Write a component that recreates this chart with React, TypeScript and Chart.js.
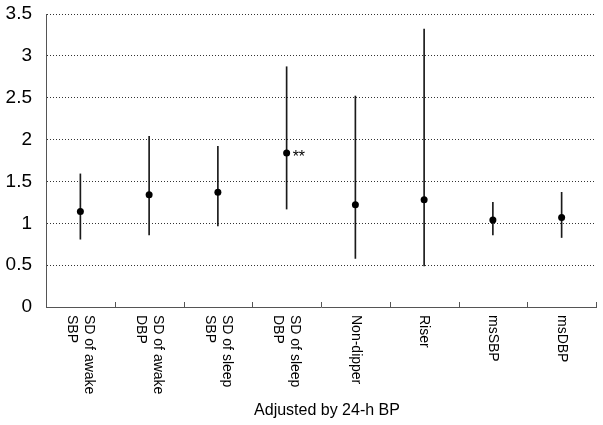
import React, { useEffect, useRef } from "react";
import { Chart, registerables } from "chart.js";

Chart.register(...registerables);

const categories: string[][] = [
  ["SD of awake", "SBP"],
  ["SD of awake", "DBP"],
  ["SD of sleep", "SBP"],
  ["SD of sleep", "DBP"],
  ["Non-dipper"],
  ["Riser"],
  ["msSBP"],
  ["msDBP"],
];
const oddsRatios = [1.14, 1.34, 1.37, 1.84, 1.22, 1.28, 1.04, 1.07];
const lowerCI = [0.81, 0.86, 0.97, 1.17, 0.58, 0.49, 0.86, 0.83];
const upperCI = [1.59, 2.04, 1.92, 2.87, 2.52, 3.32, 1.25, 1.37];
const significance = ["", "", "", "**", "", "", "", ""];
const yMin = 0;
const yMax = 3.5;
const yStep = 0.5;
const xAxisTitle = "Adjusted by 24-h BP";

const FONT = "'Liberation Sans', Arial, sans-serif";

const decorPlugin = {
  id: "decor",
  afterDraw(chart: any) {
    const ctx = chart.ctx;
    const xs = chart.scales.x;
    const ys = chart.scales.y;
    const n = categories.length;
    ctx.save();
    // inward tick marks at category boundaries
    ctx.strokeStyle = "#555";
    ctx.lineWidth = 1;
    for (let i = 0; i <= n; i++) {
      const px = Math.round(xs.getPixelForValue(i - 0.5)) + 0.5;
      ctx.beginPath();
      ctx.moveTo(px, ys.bottom);
      ctx.lineTo(px, ys.bottom - 5);
      ctx.stroke();
    }
    // rotated category labels (reading top to bottom)
    ctx.fillStyle = "#000";
    ctx.font = `14px ${FONT}`;
    ctx.textAlign = "left";
    ctx.textBaseline = "middle";
    const lineH = 17;
    categories.forEach((lines, i) => {
      const cx = xs.getPixelForValue(i);
      ctx.save();
      ctx.translate(cx, ys.bottom + 8);
      ctx.rotate(Math.PI / 2);
      lines.forEach((t, j) => {
        const off = (j - (lines.length - 1) / 2) * lineH;
        ctx.fillText(t, 0, off);
      });
      ctx.restore();
    });
    // significance marks
    ctx.font = `16px ${FONT}`;
    ctx.textBaseline = "alphabetic";
    significance.forEach((s, i) => {
      if (!s) return;
      const px = xs.getPixelForValue(i) + 6;
      const py = ys.getPixelForValue(oddsRatios[i]) + 9;
      ctx.fillText(s, px, py);
    });
    // axis title
    ctx.font = `16px ${FONT}`;
    ctx.textAlign = "center";
    ctx.textBaseline = "alphabetic";
    ctx.fillText(xAxisTitle, (xs.left + xs.right) / 2 + 6, 415);
    ctx.restore();
  },
};

export default function App() {
  const ref = useRef<HTMLCanvasElement>(null);
  useEffect(() => {
    if (!ref.current) return;
    const chart = new Chart(ref.current, {
      data: {
        labels: categories.map((c) => c.join(" ")),
        datasets: [
          {
            type: "line",
            data: oddsRatios,
            showLine: false,
            pointRadius: 3.5,
            pointHoverRadius: 3.5,
            pointBackgroundColor: "#000",
            pointBorderWidth: 0,
            borderColor: "#000",
            order: 0,
          } as any,
          {
            type: "bar",
            data: lowerCI.map((l, i) => [l, upperCI[i]]),
            backgroundColor: "#1a1a1a",
            barThickness: 1,
            grouped: false,
            order: 1,
          } as any,
        ],
      },
      options: {
        responsive: false,
        animation: false,
        events: [],
        layout: { padding: { top: 14, right: 7, left: 0, bottom: 0 } },
        plugins: { legend: { display: false }, tooltip: { enabled: false } },
        scales: {
          x: {
            type: "category",
            offset: true,
            grid: { display: false, offset: true },
            border: { display: true, color: "#555", width: 1 },
            ticks: { display: false },
            afterFit: (s: any) => {
              s.height = 118;
            },
          },
          y: {
            min: yMin,
            max: yMax,
            grid: {
              color: "#333",
              lineWidth: 1,
              drawTicks: true,
              tickLength: 14,
              tickColor: "rgba(0,0,0,0)",
            },
            border: { display: true, color: "#555", width: 1, dash: [1, 2] },
            ticks: {
              stepSize: yStep,
              padding: 0,
              color: "#000",
              font: { family: FONT, size: 19 },
              callback: (v: any) => String(Number(v)),
            },
            afterFit: (s: any) => {
              s.width = 46;
            },
          },
        },
      },
      plugins: [decorPlugin],
    } as any);
    return () => chart.destroy();
  }, []);
  return (
    <div style={{ position: "absolute", left: 0, top: 0, width: 603, height: 425, background: "#fff" }}>
      <canvas ref={ref} width={603} height={425} style={{ display: "block" }} />
    </div>
  );
}
